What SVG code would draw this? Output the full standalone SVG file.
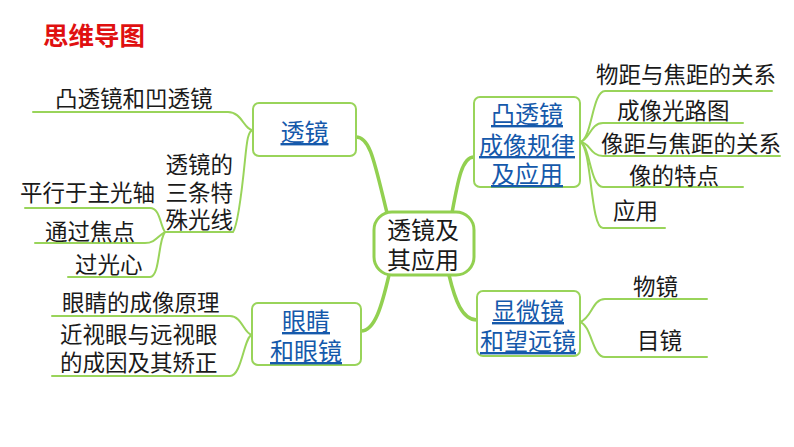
<svg xmlns="http://www.w3.org/2000/svg" width="794" height="447" viewBox="0 0 794 447">
<style>
text{font-family:"Noto Sans CJK SC","Noto Sans",sans-serif;fill:#1a1a1a;font-size:22.5px}
.title{fill:#e01010;font-weight:bold;font-size:25.5px}
.nt{fill:#1559ab;font-size:24px;text-decoration:underline;text-anchor:middle}
.ct{font-size:24px;text-anchor:middle}
.end{text-anchor:end}
.node{fill:#fff;stroke:#99d45a;stroke-width:2}
.center{fill:#fff;stroke:#92d050;stroke-width:3}
.main{fill:none;stroke:#92d050;stroke-width:3.5;stroke-linecap:round}
.sub{fill:none;stroke:#99d45a;stroke-width:2;stroke-linecap:round}
</style>
<rect width="794" height="447" fill="#fff"/>
<text class="title" x="43" y="45">思维导图</text>

<g id="connectors">
<path class="main" d="M356,137 C370,137 374,160 387,213"/>
<path class="main" d="M452,213 C458,180 462,157 474,157"/>
<path class="main" d="M389,275 C382,305 375,331 361,331"/>
<path class="main" d="M449,275 C455,300 462,320 477,320"/>
<path class="sub" d="M253,130 C244,130 242,112 228,112 H33"/>
<path class="sub" d="M253,130 C248,131 247,140 245,160 C242,190 238,225 233,232 H165"/>
<path class="sub" d="M165,232 C160,225 160,208 150,208 H25"/>
<path class="sub" d="M165,232 C158,236 155,243 145,243 H35"/>
<path class="sub" d="M165,232 C158,240 160,277 150,277 H68"/>
<path class="sub" d="M580,142 C592,140 592,91 605,91 H772"/>
<path class="sub" d="M580,142 C590,140 590,123 603,123 H743"/>
<path class="sub" d="M580,142 C590,142 590,156 603,156 H780"/>
<path class="sub" d="M580,142 C590,144 590,187 603,187 H743"/>
<path class="sub" d="M580,142 C592,146 590,228 603,228 H665"/>
<path class="sub" d="M252,335 C244,334 242,316 230,316 H52"/>
<path class="sub" d="M252,335 C244,336 242,376 230,376 H52"/>
<path class="sub" d="M580,322 C592,318 592,299 605,299 H707"/>
<path class="sub" d="M580,322 C592,326 592,357 605,357 H707"/>
</g>

<g id="center">
<rect class="center" x="374" y="212" width="100" height="63" rx="18"/>
<text class="ct"><tspan x="423" y="239">透镜及</tspan><tspan x="423" y="269">其应用</tspan></text>
</g>

<g id="lens">
<rect class="node" x="253" y="103" width="103" height="53" rx="6"/>
<text class="nt" x="304.5" y="141">透镜</text>
</g>

<g id="convex">
<rect class="node" x="474" y="97" width="106" height="90" rx="6"/>
<text class="nt"><tspan x="527" y="123">凸透镜</tspan><tspan x="527" y="154">成像规律</tspan><tspan x="527" y="183">及应用</tspan></text>
</g>

<g id="eye">
<rect class="node" x="252" y="303" width="109" height="62" rx="6"/>
<text class="nt"><tspan x="306" y="330">眼睛</tspan><tspan x="306" y="360">和眼镜</tspan></text>
</g>

<g id="scope">
<rect class="node" x="477" y="291" width="103" height="65" rx="6"/>
<text class="nt"><tspan x="528" y="320">显微镜</tspan><tspan x="528" y="350">和望远镜</tspan></text>
</g>

<g id="leaf-convex-concave"><text x="55" y="107">凸透镜和凹透镜</text></g>
<g id="leaf-three-rays">
<text class="end"><tspan x="233" y="173">透镜的</tspan><tspan x="233" y="201">三条特</tspan><tspan x="233" y="228">殊光线</tspan></text>
</g>
<g id="leaf-parallel"><text x="20" y="201">平行于主光轴</text></g>
<g id="leaf-focus"><text x="45" y="240">通过焦点</text></g>
<g id="leaf-center"><text x="75" y="273">过光心</text></g>
<g id="leaf-eye-principle"><text x="62" y="311">眼睛的成像原理</text></g>
<g id="leaf-myopia">
<text><tspan x="60" y="343">近视眼与远视眼</tspan><tspan x="60" y="371">的成因及其矫正</tspan></text>
</g>
<g id="leaf-u"><text x="596" y="83">物距与焦距的关系</text></g>
<g id="leaf-path"><text x="617" y="119">成像光路图</text></g>
<g id="leaf-v"><text x="601" y="152">像距与焦距的关系</text></g>
<g id="leaf-image"><text x="629" y="184">像的特点</text></g>
<g id="leaf-app"><text x="613" y="219">应用</text></g>
<g id="leaf-objective"><text x="633" y="295">物镜</text></g>
<g id="leaf-eyepiece"><text x="637" y="349">目镜</text></g>
</svg>
